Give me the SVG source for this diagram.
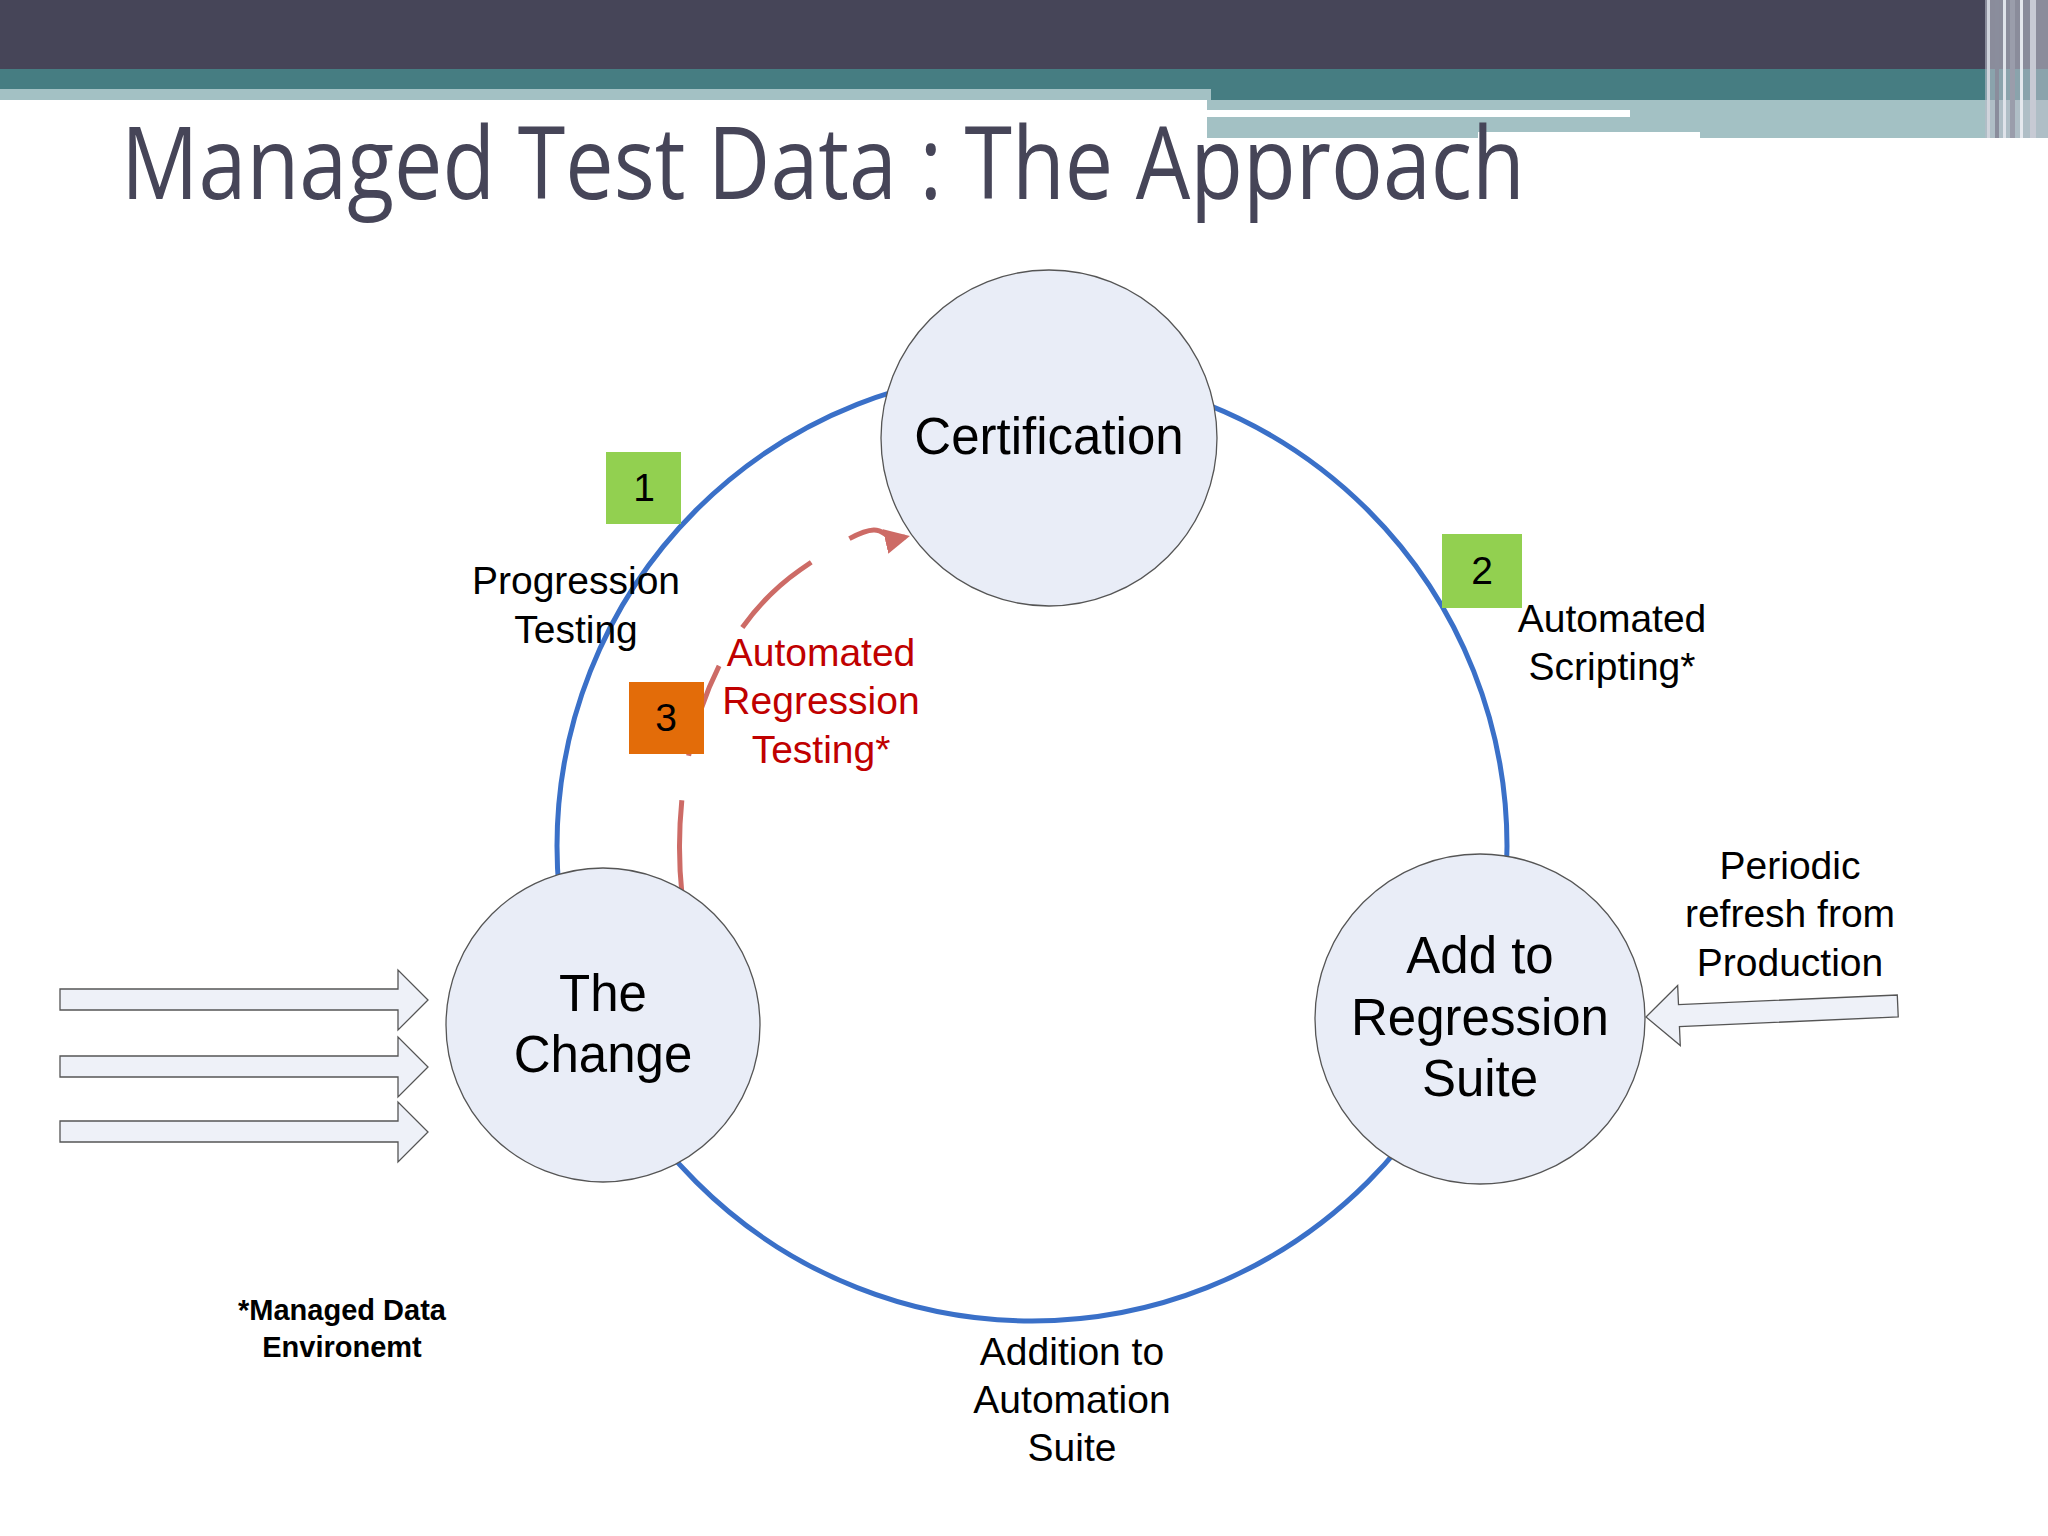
<svg xmlns="http://www.w3.org/2000/svg" width="2048" height="1536" viewBox="0 0 2048 1536">
<style>
.node{fill:#e9edf7;stroke:#555;stroke-width:1.3}
.nt{font-family:"Liberation Sans",Arial,sans-serif;font-size:51px;fill:#000;text-anchor:middle}
.lb{font-family:"Liberation Sans",Arial,sans-serif;font-size:39px;fill:#000;text-anchor:middle}
.red{fill:#c00000}
.box{font-family:"Liberation Sans",Arial,sans-serif;font-size:39px;fill:#000;text-anchor:middle}
.harrow{fill:#eef1f8;stroke:#555;stroke-width:1.3}
</style>
<defs>
<marker id="ah" viewBox="0 0 10 10" refX="8" refY="5" markerWidth="5" markerHeight="5" orient="auto"><path d="M0 0L10 5L0 10z" fill="#cd6b66"/></marker>
</defs>
<rect width="2048" height="1536" fill="#fff"/>
<g id="header">
<rect x="0" y="0" width="2048" height="69" fill="#464558"/>
<rect x="0" y="69" width="2048" height="31" fill="#467d82"/>
<rect x="0" y="89" width="1211" height="11" fill="#a3c1c4"/>
<rect x="1207" y="100" width="841" height="38" fill="#a3c1c4"/>
<rect x="1207" y="110" width="423" height="7" fill="#fff"/>
<rect x="1478" y="132" width="222" height="6" fill="#fff"/>
<rect x="1985" y="0" width="63" height="138" fill="#b8bcc8" opacity="0.6"/>
<rect x="1987" y="0" width="3" height="138" fill="#d0d4dc"/>
<rect x="1995" y="0" width="4" height="138" fill="#8a8d9c"/>
<rect x="2003" y="0" width="3" height="138" fill="#dfe3ea"/>
<rect x="2010" y="0" width="5" height="138" fill="#9a9dab"/>
<rect x="2020" y="0" width="3" height="138" fill="#e5e8ee"/>
<rect x="2030" y="0" width="6" height="138" fill="#c7cad4"/>
</g>
<text x="121" y="199" font-family="'Open Sans','DejaVu Sans',sans-serif" font-size="100" fill="#464558" textLength="1404" lengthAdjust="spacingAndGlyphs">Managed Test Data : The Approach</text>
<g id="connectors">
<circle cx="1032" cy="846" r="475" fill="none" stroke="#3a70c8" stroke-width="5"/>
<path d="M682 895 C670 780 700 640 800 570 S870 545 905 537" fill="none" stroke="#cd6b66" stroke-width="5" stroke-dasharray="95 45" marker-end="url(#ah)"/>
<polygon class="harrow" points="60,989 398,989 398,970 428,1000 398,1030 398,1010 60,1010"/>
<polygon class="harrow" points="60,1056 398,1056 398,1037 428,1067 398,1097 398,1077 60,1077"/>
<polygon class="harrow" points="60,1121 398,1121 398,1102 428,1132 398,1162 398,1142 60,1142"/>
<polygon class="harrow" transform="rotate(-2.5 1646 1017)" points="1646,1017 1679,987 1679,1006 1898,1006 1898,1028 1679,1028 1679,1047"/>
</g>
<g id="certification"><circle class="node" cx="1049" cy="438" r="168"/><text class="nt" x="1049" y="454">Certification</text></g>
<g id="the-change"><circle class="node" cx="603" cy="1025" r="157"/><text class="nt" x="603" y="1011">The</text><text class="nt" x="603" y="1072">Change</text></g>
<g id="add-regression"><circle class="node" cx="1480" cy="1019" r="165"/><text class="nt" x="1480" y="973">Add to</text><text class="nt" x="1480" y="1035">Regression</text><text class="nt" x="1480" y="1096">Suite</text></g>
<g id="step1"><rect x="606" y="452" width="75" height="72" fill="#92d050"/><text class="box" x="644" y="501">1</text></g>
<g id="step2"><rect x="1442" y="534" width="80" height="74" fill="#92d050"/><text class="box" x="1482" y="584">2</text></g>
<g id="step3"><rect x="629" y="682" width="75" height="72" fill="#e36c09"/><text class="box" x="666" y="731">3</text></g>
<g id="labels">
<text class="lb" x="576" y="594">Progression</text><text class="lb" x="576" y="643">Testing</text>
<text class="lb" x="1612" y="632">Automated</text><text class="lb" x="1612" y="680">Scripting*</text>
<text class="lb" x="1790" y="879">Periodic</text><text class="lb" x="1790" y="927">refresh from</text><text class="lb" x="1790" y="976">Production</text>
<text class="lb" x="1072" y="1365">Addition to</text><text class="lb" x="1072" y="1413">Automation</text><text class="lb" x="1072" y="1461">Suite</text>
<text class="lb red" x="821" y="666">Automated</text><text class="lb red" x="821" y="714">Regression</text><text class="lb red" x="821" y="763">Testing*</text>
<text x="342" y="1320" font-family="'Liberation Sans',Arial,sans-serif" font-size="29" font-weight="bold" text-anchor="middle">*Managed Data</text>
<text x="342" y="1357" font-family="'Liberation Sans',Arial,sans-serif" font-size="29" font-weight="bold" text-anchor="middle">Environemt</text>
</g>
</svg>
